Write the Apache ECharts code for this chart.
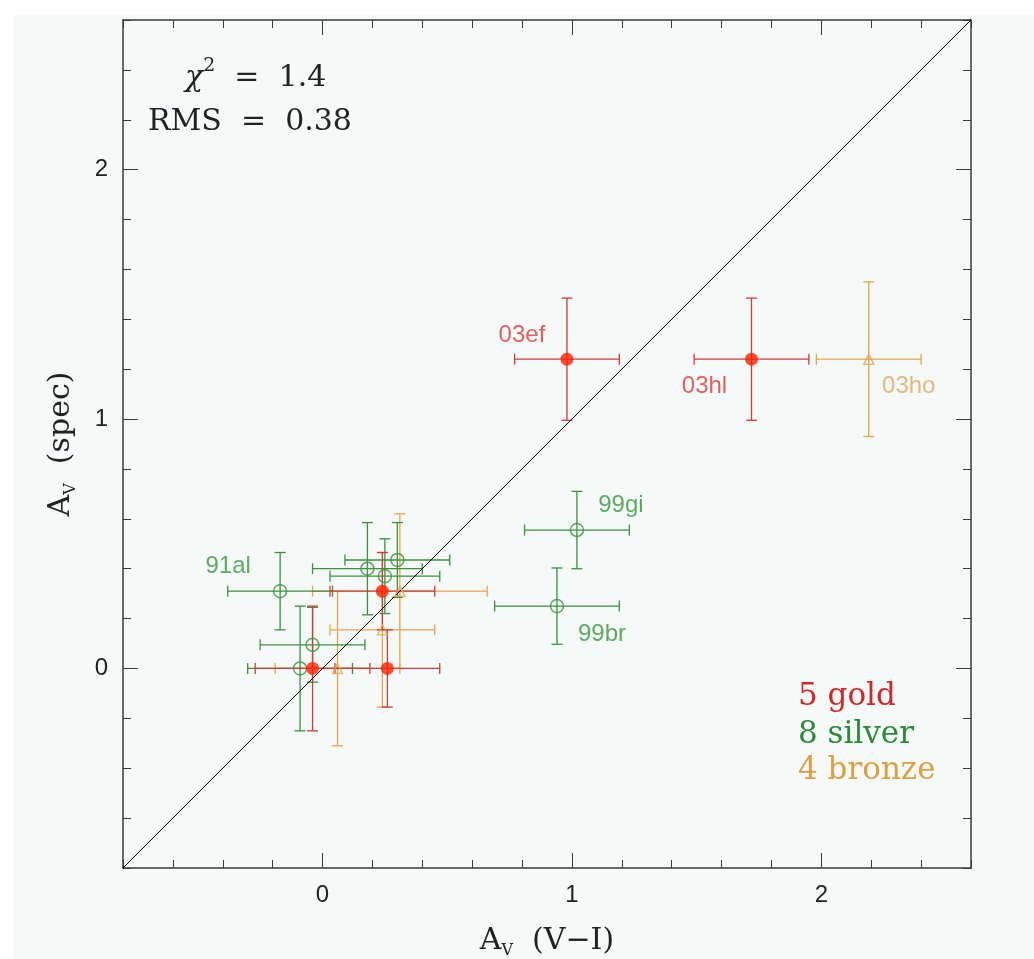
<!DOCTYPE html>
<html><head><meta charset="utf-8">
<script src="https://cdn.jsdelivr.net/npm/echarts@6/dist/echarts.min.js"></script>
<style>
html,body{margin:0;padding:0;background:#fff;}
#bg{position:absolute;left:14px;top:15px;width:1020px;height:944px;background:#f5f9f7;}
#chart{position:absolute;left:0;top:0;width:1034px;height:959px;}
</style></head>
<body><div id="bg"></div><div id="chart"></div>
<script>
// ---- data ----
const goldX    = [0.98, 1.72, 0.24, 0.26, -0.04];
const goldY    = [1.24, 1.24, 0.31, 0.00, 0.00];
const goldXErr = [0.21, 0.23, 0.21, 0.21, 0.23];
const goldYErr = [0.245, 0.245, 0.155, 0.155, 0.25];
const goldName = ['03ef', '03hl', '', '', ''];

const silverX    = [-0.17, 0.18, 0.30, 0.25, -0.04, -0.09, 1.02, 0.94];
const silverY    = [0.31, 0.40, 0.435, 0.37, 0.095, 0.00, 0.555, 0.25];
const silverXErr = [0.21, 0.22, 0.21, 0.22, 0.21, 0.21, 0.21, 0.25];
const silverYErr = [0.155, 0.185, 0.15, 0.15, 0.15, 0.25, 0.155, 0.153];
const silverName = ['91al', '', '', '', '', '', '99gi', '99br'];

const bronzeX    = [2.19, 0.31, 0.24, 0.06];
const bronzeY    = [1.24, 0.31, 0.155, 0.00];
const bronzeXErr = [0.21, 0.35, 0.21, 0.25];
const bronzeYErr = [0.31, 0.31, 0.31, 0.31];
const bronzeName = ['03ho', '', '', ''];

const identityLine = [[-0.8, -0.8], [2.6, 2.6]];
const majorTicks = [0, 1, 2];
const tickLabels = ['0', '1', '2'];
const chi2Text = '1.4';
const rmsText = '0.38';

// ---- styling ----
const labelOffset = {
  '03ef': [-45, -24], '03hl': [-47, 27], '03ho': [40, 27],
  '99gi': [44, -25], '99br': [45, 28], '91al': [-52, -25]
};
const C = {
  goldBar: '#cc3c3c', goldDot: '#ff2200', goldText: '#dc3a3a', goldLegend: '#cc2b2b',
  silver: '#3a913f', silverText: '#3a963f', silverLegend: '#2d8a3a',
  bronze: '#e6a550', bronzeText: '#dfa660', bronzeLegend: '#d9a045'
};
const SERIF = "'DejaVu Serif', serif";
const SANS = "'Liberation Sans', Arial, sans-serif";
const axisColor = '#3a3a3a';

function zip(xs, ys, xe, ye) { return xs.map((x, i) => [x, ys[i], xe[i], ye[i]]); }

function errRender(color) {
  return function (params, api) {
    const x = api.value(0), y = api.value(1), xe = api.value(2), ye = api.value(3);
    const l = api.coord([x - xe, y]), r = api.coord([x + xe, y]);
    const b = api.coord([x, y - ye]), t = api.coord([x, y + ye]);
    const c = 5.5;
    const st = { stroke: color, lineWidth: 1.3 };
    const ln = (x1, y1, x2, y2) => ({ type: 'line', shape: { x1, y1, x2, y2 }, style: st });
    return { type: 'group', children: [
      ln(l[0], l[1], r[0], r[1]), ln(b[0], b[1], t[0], t[1]),
      ln(l[0], l[1] - c, l[0], l[1] + c), ln(r[0], r[1] - c, r[0], r[1] + c),
      ln(t[0] - c, t[1], t[0] + c, t[1]), ln(b[0] - c, b[1], b[0] + c, b[1])
    ]};
  };
}

function pointData(xs, ys, names, color) {
  return xs.map((x, i) => {
    const d = { value: [x, ys[i]] };
    if (names[i]) {
      d.label = { show: true, position: 'inside', formatter: names[i], offset: labelOffset[names[i]],
        color: color, fontFamily: SANS, fontSize: 24 };
    }
    return d;
  });
}

function tickFormatter(v) {
  const i = majorTicks.indexOf(Math.round(v));
  return i >= 0 ? tickLabels[i] : '';
}

function minorAxis(pos, extra) {
  return Object.assign({ type: 'value', min: -0.8, max: 2.6, interval: 0.2, position: pos,
    axisLine: { show: true, onZero: false, lineStyle: { color: axisColor, width: 1.5 } },
    axisTick: { show: true, inside: true, length: 8, lineStyle: { color: axisColor, width: 1 } },
    axisLabel: { show: false },
    splitLine: { show: false } }, extra || {});
}
function majorAxis(pos, showLabels) {
  return { type: 'value', min: -0.8, max: 2.6, position: pos,
    axisLine: { show: false, onZero: false },
    axisTick: { show: true, inside: true, length: 15, customValues: majorTicks,
      lineStyle: { color: axisColor, width: 1 } },
    axisLabel: { show: !!showLabels, customValues: majorTicks, margin: 15, formatter: tickFormatter,
      color: '#222', fontFamily: SANS, fontSize: 24 },
    splitLine: { show: false } };
}

const nameRich = {
  a: { fontFamily: SERIF, fontSize: 30, color: '#222', lineHeight: 36, verticalAlign: 'middle' },
  s: { fontFamily: SERIF, fontSize: 16, color: '#222', lineHeight: 36, verticalAlign: 'bottom' }
};

const chart = echarts.init(document.getElementById('chart'), null, { renderer: 'canvas' });
chart.setOption({
  animation: false,
  textStyle: { fontFamily: SANS },
  grid: { left: 123, top: 20, width: 848, height: 848, outerBoundsMode: 'none', containLabel: false },
  xAxis: [
    minorAxis('bottom', { name: '{a|A}{s|V}{a|  (V−I)}', nameLocation: 'middle', nameGap: 55,
      nameTextStyle: { rich: nameRich } }),
    majorAxis('bottom', true),
    minorAxis('top'),
    majorAxis('top', false)
  ],
  yAxis: [
    minorAxis('left', { name: '{a|A}{s|V}{a|  (spec)}', nameLocation: 'middle', nameGap: 44,
      nameTextStyle: { rich: nameRich } }),
    majorAxis('left', true),
    minorAxis('right'),
    majorAxis('right', false)
  ],
  series: [
    { type: 'custom', renderItem: errRender(C.bronze), data: zip(bronzeX, bronzeY, bronzeXErr, bronzeYErr), z: 2 },
    { type: 'custom', renderItem: errRender(C.silver), data: zip(silverX, silverY, silverXErr, silverYErr), z: 2 },
    { type: 'custom', renderItem: errRender(C.goldBar), data: zip(goldX, goldY, goldXErr, goldYErr), z: 2 },
    { type: 'line', data: identityLine, symbol: 'none', lineStyle: { color: '#000', width: 1 }, z: 3 },
    { type: 'scatter', data: pointData(bronzeX, bronzeY, bronzeName, C.bronzeText), symbol: 'triangle', symbolSize: 10,
      itemStyle: { color: 'rgba(0,0,0,0)', borderColor: C.bronze, borderWidth: 1.5 }, z: 4 },
    { type: 'scatter', data: pointData(silverX, silverY, silverName, C.silverText), symbol: 'circle', symbolSize: 13,
      itemStyle: { color: 'rgba(0,0,0,0)', borderColor: C.silver, borderWidth: 1.5 }, z: 4 },
    { type: 'scatter', data: pointData(goldX, goldY, goldName, C.goldText), symbol: 'circle', symbolSize: 13,
      itemStyle: { color: C.goldDot }, z: 5 }
  ],
  graphic: { elements: [
    { type: 'text', x: 185, y: 75, style: { text: '{i|χ}{p|2}{n|  =  ' + chi2Text + '}', verticalAlign: 'middle',
      rich: { i: { fontFamily: SERIF, fontSize: 30, fontStyle: 'italic', fill: '#222', lineHeight: 36, verticalAlign: 'bottom' },
              p: { fontFamily: SERIF, fontSize: 19, fill: '#222', lineHeight: 36, verticalAlign: 'top' },
              n: { fontFamily: SERIF, fontSize: 30, fill: '#222', lineHeight: 36, verticalAlign: 'bottom' } } } },
    { type: 'text', x: 148, y: 122, style: { text: 'RMS  =  ' + rmsText, verticalAlign: 'middle',
      fontFamily: SERIF, fontSize: 30, fill: '#222' } },
    { type: 'text', x: 798, y: 697, style: { text: goldX.length + ' gold', verticalAlign: 'middle',
      fontFamily: SERIF, fontSize: 31, fill: C.goldLegend } },
    { type: 'text', x: 798, y: 735, style: { text: silverX.length + ' silver', verticalAlign: 'middle',
      fontFamily: SERIF, fontSize: 31, fill: C.silverLegend } },
    { type: 'text', x: 798, y: 771, style: { text: bronzeX.length + ' bronze', verticalAlign: 'middle',
      fontFamily: SERIF, fontSize: 31, fill: C.bronzeLegend } }
  ]}
});
</script></body></html>
